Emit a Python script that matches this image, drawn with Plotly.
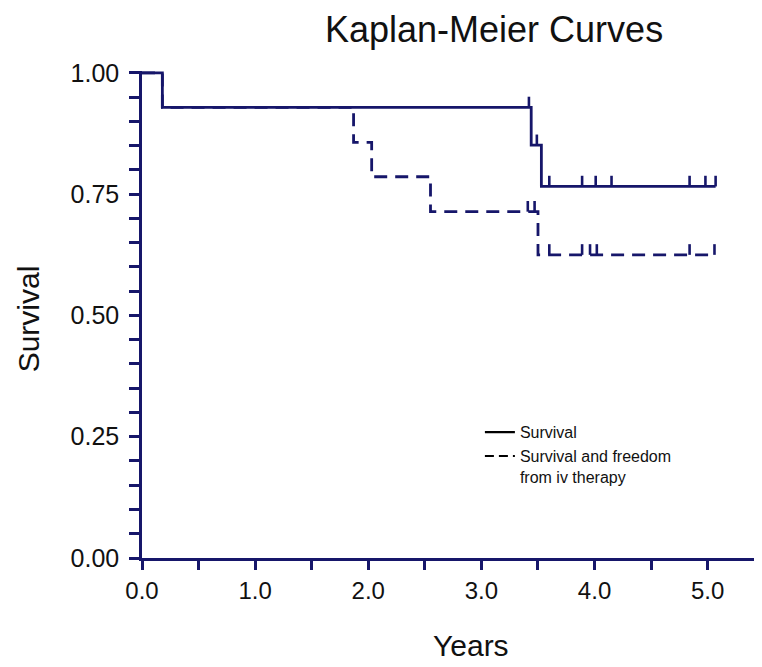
import numpy as np
import plotly.graph_objects as go

# ---- data ----
surv_times = [0.0, 0.18, 3.44, 3.53, 5.07]
surv_levels = [1.000, 0.929, 0.851, 0.766, 0.766]
surv_censor = [3.42, 3.49, 3.60, 3.89, 4.01, 4.15, 4.84, 4.98, 5.07]

free_times = [0.0, 0.18, 1.87, 2.03, 2.55, 3.50, 5.06]
free_levels = [1.000, 0.929, 0.857, 0.786, 0.714, 0.625, 0.625]
free_censor = [3.41, 3.47, 3.60, 3.89, 3.96, 4.02, 4.84, 5.06]

x_ticks = [0, 1, 2, 3, 4, 5]
y_ticks = [0.0, 0.25, 0.5, 0.75, 1.0]

NAVY = "#16166a"
TICK_H = 0.022


def censor_segments(times, levels, censor):
    t = np.asarray(times)
    s = np.asarray(levels)
    xs, ys = [], []
    for c in censor:
        lvl = s[np.searchsorted(t, c, side="right") - 1]
        xs += [c, c, None]
        ys += [lvl, lvl + TICK_H, None]
    return xs, ys


fig = go.Figure()

fig.add_trace(go.Scatter(x=free_times, y=free_levels, mode="lines", line_shape="hv",
                         line=dict(color=NAVY, width=2.8, dash="13px,8px"),
                         showlegend=False, hoverinfo="skip"))
cx, cy = censor_segments(free_times, free_levels, free_censor)
fig.add_trace(go.Scatter(x=cx, y=cy, mode="lines", line=dict(color=NAVY, width=2.6),
                         showlegend=False, hoverinfo="skip"))

fig.add_trace(go.Scatter(x=surv_times, y=surv_levels, mode="lines", line_shape="hv",
                         line=dict(color=NAVY, width=2.8),
                         showlegend=False, hoverinfo="skip"))
cx, cy = censor_segments(surv_times, surv_levels, surv_censor)
fig.add_trace(go.Scatter(x=cx, y=cy, mode="lines", line=dict(color=NAVY, width=2.6),
                         showlegend=False, hoverinfo="skip"))

# legend entries (black samples as in the reference)
fig.add_trace(go.Scatter(x=[None], y=[None], mode="lines", name="Survival",
                         line=dict(color="black", width=2.2)))
fig.add_trace(go.Scatter(x=[None], y=[None], mode="lines",
                         name="Survival and freedom<br>from iv therapy",
                         line=dict(color="black", width=2.2, dash="9px,5px")))

FONT = "Liberation Sans, Arial, sans-serif"

# the page adds an 8px body margin, so the figure is sized 8px smaller
fig.update_layout(
    width=754, height=659,
    margin=dict(l=134, r=0, t=63, b=109),
    paper_bgcolor="white", plot_bgcolor="white",
    font=dict(family=FONT, color="#111111"),
    showlegend=True,
    legend=dict(x=0.545, y=0.293, xanchor="left", yanchor="top",
                font=dict(family=FONT, size=16, color="#111111"),
                bgcolor="rgba(0,0,0,0)", valign="top", tracegroupgap=0),
    xaxis=dict(range=[0, 5.48], tickvals=x_ticks, tickformat=".1f",
               showgrid=False, zeroline=False, showline=True, linecolor=NAVY, linewidth=2.5,
               ticks="outside", ticklen=9, tickwidth=2.5, tickcolor=NAVY,
               tickfont=dict(size=24, color="#111111"),
               minor=dict(dtick=0.5, ticks="outside", ticklen=9, tickwidth=2.5, tickcolor=NAVY)),
    yaxis=dict(range=[0, 1.004], tickvals=y_ticks, tickformat=".2f",
               showgrid=False, zeroline=False, showline=True, linecolor=NAVY, linewidth=2.5,
               ticks="outside", ticklen=10, tickwidth=2.5, tickcolor=NAVY,
               ticklabelstandoff=5,
               tickfont=dict(size=25, color="#111111"),
               minor=dict(dtick=0.05, ticks="outside", ticklen=10, tickwidth=2.5, tickcolor=NAVY)),
    annotations=[
        dict(text="Kaplan-Meier Curves", xref="paper", yref="paper", x=0.568, y=1.0,
             yshift=42, xanchor="center", yanchor="middle", showarrow=False,
             font=dict(family=FONT, size=36, color="#111111")),
        dict(text="Years", xref="x", yref="paper", x=2.91, y=0, yshift=-87,
             xanchor="center", yanchor="middle", showarrow=False,
             font=dict(family=FONT, size=30, color="#111111")),
        dict(text="Survival", xref="paper", yref="paper", x=0, xshift=-114, y=0.49,
             xanchor="center", yanchor="middle", textangle=-90, showarrow=False,
             font=dict(family=FONT, size=30, color="#111111")),
    ],
)

fig.write_html("out.html")
